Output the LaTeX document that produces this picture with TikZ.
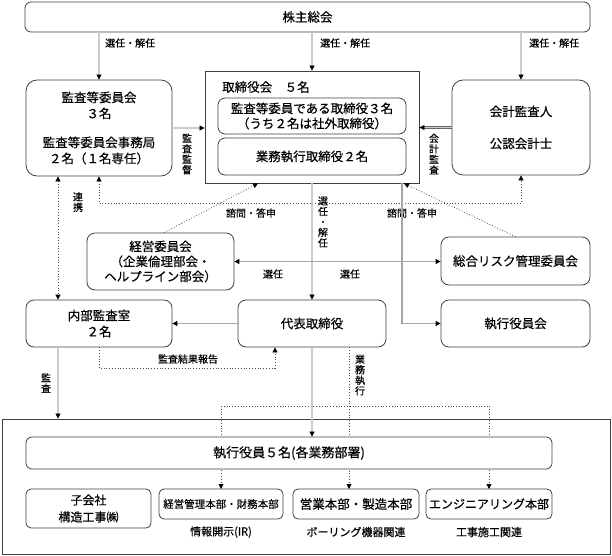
\documentclass[tikz,border=0pt]{standalone}
\usepackage{fontspec}
\setmainfont{Noto Sans CJK JP}[FakeBold=0.4]
\usetikzlibrary{arrows.meta}

\tikzset{
  box/.style={draw=black!75,line width=0.8pt,rounded corners=6pt,fill=white,align=center,inner sep=0pt,font=\fontsize{12.5}{16}\selectfont},
  lbl/.style={inner sep=0pt,align=center,font=\fontsize{10}{10.5}\selectfont},
  dbl/.style={draw=black!60,double=gray!40,double distance=1.3pt,line width=0.6pt},
  solidline/.style={draw=gray!70,line width=1.1pt},
  dotline/.style={draw=black!70,dotted,line width=0.8pt},
}

\begin{document}
\begin{tikzpicture}[x=1pt,y=-1pt,>={Triangle[length=5pt,width=5pt,color=black]}]
	\useasboundingbox (0,0) rectangle (612,555);
	% frame round the executive side
	\node[draw=black!75,line width=0.8pt,minimum width=608pt,minimum height=135pt,inner sep=0pt] (field) at (306,486.5) {};

	\node[box,minimum width=565pt,minimum height=30pt] (holders) at (307.5,17) {株主総会};
	\node[box,rounded corners=11pt,minimum width=146pt,minimum height=96pt] (audit) at (99,128) {監査等委員会\\３名\\[13pt]監査等委員会事務局\\２名（１名専任）};
	\node[draw=black!75,line width=0.8pt,minimum width=214pt,minimum height=112pt,inner sep=0pt] (board) at (312,127) {};
	\node[anchor=west,inner sep=0pt,font=\fontsize{12.5}{16}\selectfont] (boardname) at (222,87) {取締役会　５名};
	\node[box,rounded corners=7pt,minimum width=188pt,minimum height=36pt,font=\fontsize{12.5}{15}\selectfont] (dirsaudit) at (312,116) {監査等委員である取締役３名\\（うち２名は社外取締役）};
	\node[box,rounded corners=7pt,minimum width=188pt,minimum height=37pt] (dirsexec) at (312,156.5) {業務執行取締役２名};
	\node[box,rounded corners=11pt,minimum width=138pt,minimum height=95pt] (acct) at (521,127.5) {会計監査人\\[16pt]公認会計士};

	\node[box,rounded corners=8pt,minimum width=147pt,minimum height=57pt,font=\fontsize{12.5}{15}\selectfont] (mgmt) at (160.5,261.5) {経営委員会\\（企業倫理部会・\\ヘルプライン部会）};
	\node[box,rounded corners=8pt,minimum width=149pt,minimum height=48pt] (risk) at (515.5,261) {総合リスク管理委員会};
	\node[box,rounded corners=8pt,minimum width=146pt,minimum height=47pt] (internal) at (99,323.5) {内部監査室\\２名};
	\node[box,rounded corners=8pt,minimum width=148pt,minimum height=47pt] (rep) at (312,323.5) {代表取締役};
	\node[box,rounded corners=8pt,minimum width=149pt,minimum height=47pt] (execcomm) at (515.5,323.5) {執行役員会};

	% dotted fork to the divisions, under the officers box
	\coordinate (split) at (349,406);
	\draw[dotline] (split -| 221,0) -- (split -| 489,0);
	\draw[dotline,->] (split -| 221,0) -- (221,489);
	\draw[dotline,->] (349,0 |- rep.south) -- (349,489);
	\draw[dotline,->] (split -| 489,0) -- (489,489);

	\node[box,minimum width=526pt,minimum height=32pt,font=\fontsize{13}{16}\selectfont] (officers) at (289,453) {執行役員５名(各業務部署)};
	\node[box,rounded corners=5pt,minimum width=125pt,minimum height=39pt,font=\fontsize{12}{17}\selectfont] (sub) at (88.5,508.5) {子会社\\構造工事㈱};
	\node[box,rounded corners=5pt,minimum width=124pt,minimum height=30pt,font=\fontsize{10.5}{12}\selectfont] (dept1) at (221,504) {経営管理本部・財務本部};
	\node[box,rounded corners=5pt,minimum width=126pt,minimum height=30pt] (dept2) at (356,504) {営業本部・製造本部};
	\node[box,rounded corners=5pt,minimum width=126pt,minimum height=30pt,font=\fontsize{12}{14}\selectfont] (dept3) at (489,504) {エンジニアリング本部};
	\node[lbl,font=\fontsize{11}{12}\selectfont] (dept1note) at (221,532) {情報開示(IR)};
	\node[lbl,font=\fontsize{11}{12}\selectfont] (dept2note) at (356,532) {ボーリング機器関連};
	\node[lbl,font=\fontsize{11}{12}\selectfont] (dept3note) at (489,532) {工事施工関連};

	% elections from the shareholders
	\draw[dbl,->] (holders.south -| audit.north) -- (audit.north);
	\draw[dbl,->] (holders.south -| board.north) -- (board.north);
	\draw[dbl,->] (holders.south -| acct.north) -- (acct.north);
	\node[lbl,anchor=west] (elect1) at (105,43) {選任・解任};
	\node[lbl,anchor=west] (elect2) at (320,43) {選任・解任};
	\node[lbl,anchor=west] (elect3) at (529,43) {選任・解任};

	\draw[dbl,->] (audit.east) -- (audit.east -| board.west);
	\draw[dbl,->] (acct.west) -- (acct.west -| board.east);
	\node[lbl] (superv) at (187,154) {監\\査\\監\\督};
	\node[lbl] (acctaudit) at (434,154) {会\\計\\監\\査};

	\draw[dotline,<->] (58,0 |- audit.south) -- (58,0 |- internal.north);
	\node[lbl] (liaison) at (78,202) {連\\携};
	\draw[dotline,<->] (audit.south) -- (audit.south |- 0,203) -| (acct.south);

	\draw[dotline,->] (164,0 |- mgmt.north) -- (258,0 |- board.south);
	\draw[dotline,->] (risk.north) -- (404,0 |- board.south);
	\node[lbl] (consult1) at (251,213) {諮問・答申};
	\node[lbl] (consult2) at (412,213) {諮問・答申};

	\draw[dbl,->] (board.south) -- (rep.north);
	\node[lbl] (elect4) at (323,222) {選\\任\\・\\解\\任};
	\draw[solidline,->] (402,0 |- board.south) |- (execcomm.west);
	\draw[solidline,<->] (mgmt.east) -- (mgmt.east -| risk.west);
	\node[lbl] (appoint1) at (273,274) {選任};
	\node[lbl] (appoint2) at (350,274) {選任};

	\draw[solidline,->] (rep.west) -- (rep.west -| internal.east);
	\draw[dotline,->] (internal.south) -- (internal.south |- 0,368) -| (275,0 |- rep.south);
	\node[lbl] (report) at (188,359) {監査結果報告};

	\draw[dbl,->] (58,0 |- internal.south) -- (58,0 |- field.north);
	\node[lbl] (auditing) at (46,383) {監\\査};
	\draw[dbl,->] (rep.south) -- (rep.south |- officers.north);
	\node[lbl] (execution) at (360,375) {業\\務\\執\\行};
\end{tikzpicture}
\end{document}
